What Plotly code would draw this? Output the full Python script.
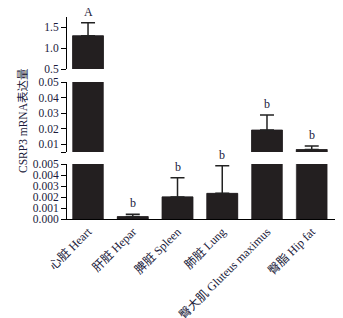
import plotly.graph_objects as go

categories = ["心脏 Heart", "肝脏 Hepar", "脾脏 Spleen", "肺脏 Lung", "臀大肌 Gluteus maximus", "臀脂 Hip fat"]
values = [1.29, 0.00022, 0.00201, 0.00233, 0.0191, 0.0066]
errors = [0.31, 0.00022, 0.00174, 0.00251, 0.0097, 0.0023]
letters = ["A", "b", "b", "b", "b", "b"]

bot_ticks = [0.0, 0.001, 0.002, 0.003, 0.004, 0.005]
bot_labels = ["0.000", "0.001", "0.002", "0.003", "0.004", "0.005"]
mid_ticks = [0.005, 0.01, 0.02, 0.03, 0.04, 0.05]
mid_labels = ["", "0.01", "0.02", "0.03", "0.04", "0.05"]
top_ticks = [0.5, 1.0, 1.5]
top_labels = ["0.5", "1.0", "1.5"]

TXT = "#1a1a3a"
BAR = "#231f20"
FONT = "Liberation Serif, Noto Sans CJK SC, serif"


def seg(v):
    if v <= 0.005:
        return "y"
    if v <= 0.05:
        return "y2"
    return "y3"


fig = go.Figure()
for ya in ["y", "y2", "y3"]:
    # all bars, no error bars
    fig.add_trace(go.Bar(
        x=categories, y=values, yaxis=ya, xaxis="x",
        marker=dict(color=BAR, line=dict(color=BAR, width=0.5)),
        showlegend=False, hoverinfo="skip",
    ))
    # bars whose error-bar top falls in this segment, with error bars
    idx = [i for i in range(len(categories)) if seg(values[i] + errors[i]) == ya]
    if idx:
        fig.add_trace(go.Bar(
            x=[categories[i] for i in idx], y=[values[i] for i in idx],
            yaxis=ya, xaxis="x",
            marker=dict(color=BAR, line=dict(color=BAR, width=0.5)),
            error_y=dict(type="data", symmetric=False,
                         array=[errors[i] for i in idx],
                         arrayminus=[0] * len(idx), color="#222222",
                         thickness=1.5, width=7),
            showlegend=False,
        ))

for c, v, e, l in zip(categories, values, errors, letters):
    top = v + e
    fig.add_annotation(x=c, y=top, xref="x", yref=seg(top), text=l,
                       showarrow=False, yanchor="bottom", yshift=2,
                       font=dict(family=FONT, size=12, color=TXT))

L, R, T, B = 67, 8, 17, 99
W, H = 343, 318
top_px, bot_px = T, H - B
ph = bot_px - top_px
pw = W - L - R


def dom(y_top, y_bot):
    return [(bot_px - y_bot) / ph, (bot_px - y_top) / ph]


fig.add_annotation(x=(22 - L) / pw, y=(bot_px - 121) / ph, xref="paper", yref="paper",
                   text="CSRP3 mRNA表达量",
                   showarrow=False, textangle=-90, xanchor="center", yanchor="middle",
                   font=dict(family=FONT, size=11.5, color=TXT))

axis_common = dict(showline=True, linecolor="black", linewidth=1, ticks="outside",
                   ticklen=5, tickcolor="black", showgrid=False, zeroline=False,
                   tickmode="array", tickfont=dict(family=FONT, size=11.5, color=TXT),
                   anchor="x", fixedrange=True)

fig.update_layout(
    width=W, height=H,
    margin=dict(l=L, r=R, t=T, b=B),
    paper_bgcolor="white", plot_bgcolor="white",
    bargap=0.31, barmode="overlay",
    xaxis=dict(showline=True, linecolor="black", linewidth=1, ticks="",
               tickangle=-45, tickfont=dict(family=FONT, size=12, color=TXT),
               range=[-0.47, 5.52], showgrid=False, zeroline=False,
               automargin=False, anchor="y", fixedrange=True),
    yaxis=dict(domain=dom(164, 219), range=[0, 0.005], tickvals=bot_ticks,
               ticktext=bot_labels, **axis_common),
    yaxis2=dict(domain=dom(82, 152), range=[0.005, 0.05], tickvals=mid_ticks,
                ticktext=mid_labels, **axis_common),
    yaxis3=dict(domain=dom(17, 69), range=[0.5, 1.738], tickvals=top_ticks,
                ticktext=top_labels, **axis_common),
)

fig.write_html("out.html", config={"displayModeBar": False},
               post_script="document.body.style.margin='0';")
